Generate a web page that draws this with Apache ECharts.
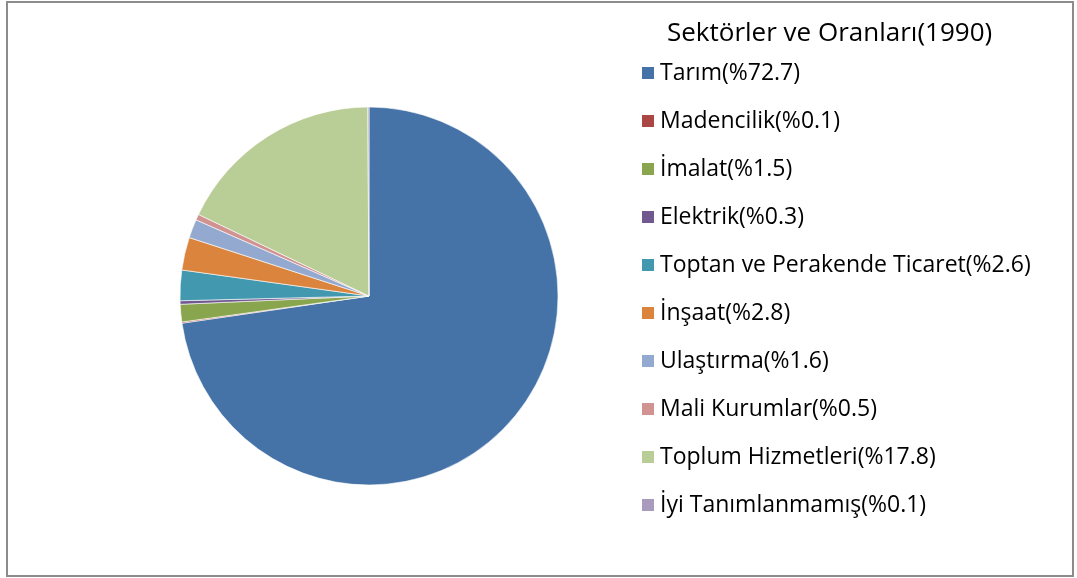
<!DOCTYPE html>
<html>
<head>
<meta charset="utf-8">
<script src="https://cdn.jsdelivr.net/npm/echarts@6/dist/echarts.min.js"></script>
<style>
  html, body { margin: 0; padding: 0; background: #fff; }
  #chart { width: 1077px; height: 578px; }
  .frame {
    position: absolute; left: 6px; top: 1px; width: 1064px; height: 572px;
    border: 2px solid #8c8c8c; pointer-events: none;
  }
</style>
</head>
<body>
<div id="chart"></div>
<div class="frame"></div>
<script>
// Sektör adları ve oranları (1990)
const sectors = ['Tarım', 'Madencilik', 'İmalat', 'Elektrik', 'Toptan ve Perakende Ticaret',
  'İnşaat', 'Ulaştırma', 'Mali Kurumlar', 'Toplum Hizmetleri', 'İyi Tanımlanmamış']
const shares = [72.7, 0.1, 1.5, 0.3, 2.6, 2.8, 1.6, 0.5, 17.8, 0.1]
const colors = ['#4572A7', '#AA4643', '#89A54E', '#71588F', '#4198AF',
  '#DB843D', '#93A9CF', '#D19392', '#B9CD96', '#A99BBD']

const fontFamily = '"Open Sans", sans-serif'

const chart = echarts.init(document.getElementById('chart'))

chart.setOption({
  animation: false,
  color: colors,
  title: {
    text: 'Sektörler ve Oranları(1990)',
    left: 667,
    top: 19,
    padding: 0,
    textStyle: { fontFamily, fontSize: 26, fontWeight: 'normal', color: '#000', lineHeight: 30 }
  },
  legend: {
    orient: 'vertical',
    left: 640,
    top: 61,
    padding: 0,
    itemWidth: 14,
    itemHeight: 14,
    itemGap: 24,
    icon: 'rect',
    textStyle: { fontFamily, fontSize: 23, color: '#000', lineHeight: 24 },
    formatter: name => `${name}(%${shares[sectors.indexOf(name)]})`
  },
  series: [{
    type: 'pie',
    center: [369, 296],
    radius: 189,
    startAngle: 90,
    clockwise: true,
    avoidLabelOverlap: false,
    label: { show: false },
    labelLine: { show: false },
    itemStyle: { borderColor: '#fff', borderWidth: 0.6 },
    emphasis: { disabled: true },
    data: sectors.map((name, i) => ({ name, value: shares[i] }))
  }]
})
</script>
</body>
</html>
